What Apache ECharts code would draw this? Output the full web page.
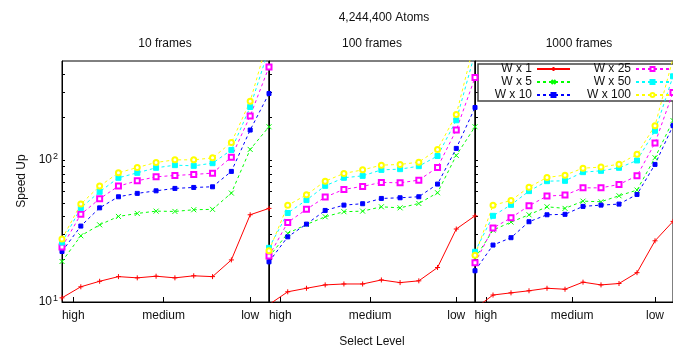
<!DOCTYPE html>
<html>
<head>
<meta charset="utf-8">
<script src="https://cdn.jsdelivr.net/npm/echarts@6/dist/echarts.min.js"></script>
<style>
html, body { margin: 0; padding: 0; background: #fff; }
#main { width: 673px; height: 351px; }
</style>
</head>
<body>
<div id="main"></div>
<script>
var myChart = echarts.init(document.getElementById('main'));

// x positions of the select levels, and where the named ticks sit
var steps = [0, 1, 2, 3, 4, 5, 6, 7, 8, 9, 10, 11];
var tickPos = [0.6, 5.4, 10];
var tickNames = ['high', 'medium', 'low'];
var yMinor = [20, 30, 40, 50, 60, 70, 80, 90, 100, 200, 300, 400];
var yLabels = [10, 100];

var panelTitles = ['10 frames', '100 frames', '1000 frames'];
var seriesNames = ['W x 1', 'W x 5', 'W x 10', 'W x 25', 'W x 50', 'W x 100'];

// 10 frames
var f10_w1 = [10.7, 12.8, 14.0, 15.1, 14.8, 15.2, 14.8, 15.3, 15.1, 19.8, 41.2, 45.7];
var f10_w5 = [19.3, 29.3, 35.0, 40.1, 42.1, 43.7, 43.5, 44.7, 45.0, 58.6, 119, 172];
var f10_w10 = [22.7, 34.3, 46.1, 55.2, 58.3, 60.8, 63.2, 64.2, 64.9, 83.3, 163, 295];
var f10_w25 = [24.4, 41.5, 53.4, 65.6, 71.5, 76.3, 78.0, 79.3, 81.0, 105, 205, 454];
var f10_w50 = [26.3, 46.1, 59.8, 75.1, 81.4, 88.3, 92.2, 91.2, 95.2, 118, 237, 610];
var f10_w100 = [27.8, 49.0, 65.6, 81.4, 88.8, 96.3, 100.5, 100.5, 103.8, 133, 260, 750];

// 100 frames
var f100_w1 = [9.6, 11.8, 12.5, 13.2, 13.4, 13.4, 14.3, 13.7, 14.1, 17.5, 32.7, 40.5];
var f100_w5 = [20.8, 30.5, 35.2, 39.9, 43.3, 43.7, 46.9, 46.1, 49.5, 58.9, 108, 172];
var f100_w10 = [19.2, 28.8, 35.4, 44.2, 48.2, 49.3, 53.7, 54.3, 55.2, 67.8, 121, 235];
var f100_w25 = [21.1, 36.4, 45.0, 54.9, 62.2, 65.3, 69.7, 69.2, 72.3, 88.9, 163, 382];
var f100_w50 = [24.1, 42.4, 52.3, 65.9, 75.1, 77.5, 85.4, 86.4, 90.7, 107, 191, 570];
var f100_w100 = [23.0, 48.0, 57.0, 71.1, 80.6, 85.4, 92.2, 93.3, 96.8, 119, 210, 700];

// 1000 frames
var f1000_w1 = [9.0, 11.2, 11.6, 12.0, 12.5, 12.3, 13.8, 13.2, 13.5, 16.1, 27.0, 37];
var f1000_w5 = [20.3, 32.1, 36.6, 41.2, 46.9, 45.7, 51.4, 50.9, 56.1, 61.5, 104, 190];
var f1000_w10 = [16.6, 25.2, 28.4, 36.8, 41.2, 41.5, 47.2, 48.2, 49.0, 57.3, 93.3, 175];
var f1000_w25 = [18.9, 33.2, 39.2, 47.7, 55.8, 56.7, 63.8, 63.8, 67.4, 77.5, 132, 300];
var f1000_w50 = [22.6, 40.5, 48.4, 60.5, 71.1, 71.5, 82.3, 84.1, 88.3, 99.5, 161, 390];
var f1000_w100 = [21.4, 48.0, 52.0, 64.5, 75.5, 78.4, 87.8, 89.3, 93.7, 110, 175, 520];

var panels = [
    [f10_w1, f10_w5, f10_w10, f10_w25, f10_w50, f10_w100],
    [f100_w1, f100_w5, f100_w10, f100_w25, f100_w50, f100_w100],
    [f1000_w1, f1000_w5, f1000_w10, f1000_w25, f1000_w50, f1000_w100]
];

var FONT = 'Liberation Sans, Arial, sans-serif';
var colors = ['#ff0000', '#00ff00', '#0000ff', '#ff00ff', '#00ffff', '#ffff00'];
var symbols = [
    'path://M0,5L10,5M5,0L5,10',
    'path://M0,0L10,10M10,0L0,10',
    'rect',
    'emptyRect',
    'rect',
    'emptyCircle'
];
var symbolSizes = [5, 5, 4, 5, 5, 5];

var grids = [
    { left: 62, top: 61, width: 207, height: 241 },
    { left: 269, top: 61, width: 206, height: 241 },
    { left: 475, top: 61, width: 207, height: 241 }
];

var xAxes = [], yAxes = [], series = [];
grids.forEach(function (g, p) {
    g.show = true;
    g.borderColor = '#000';
    g.borderWidth = 1;
    xAxes.push({
        type: 'value', gridIndex: p, min: 0, max: 11,
        axisLine: { show: true, lineStyle: { color: '#000', width: 1 } },
        axisTick: { inside: true, length: 5, customValues: tickPos, lineStyle: { color: '#000' } },
        axisLabel: {
            customValues: tickPos, margin: 8, color: '#111', fontSize: 12, fontFamily: FONT,
            formatter: function (v) {
                var k = tickPos.indexOf(v);
                return k >= 0 ? tickNames[k] : '';
            }
        },
        splitLine: { show: false }
    });
    yAxes.push({
        type: 'log', logBase: 10, gridIndex: p, min: 10, max: 500,
        axisLine: { show: true, lineStyle: { color: '#000', width: 1 } },
        axisTick: { inside: true, length: 3, customValues: yMinor, lineStyle: { color: '#000' } },
        axisLabel: {
            show: p === 0, customValues: yLabels, margin: 4, color: '#111',
            formatter: function (v) {
                return '{b|10}{s|' + Math.round(Math.log10(v)) + '}';
            },
            rich: {
                b: { fontSize: 12, fontFamily: FONT, color: '#111' },
                s: { fontSize: 9, fontFamily: FONT, color: '#111', padding: [0, 0, 7, 1] }
            }
        },
        splitLine: { show: false }
    });
    panels[p].forEach(function (vals, k) {
        series.push({
            name: seriesNames[k],
            type: 'line',
            xAxisIndex: p,
            yAxisIndex: p,
            data: steps.map(function (x, i) { return [x, vals[i]]; }),
            symbol: symbols[k],
            symbolSize: symbolSizes[k],
            color: colors[k],
            itemStyle: { color: colors[k], borderColor: colors[k], borderWidth: 1 },
            lineStyle: { color: colors[k], width: 1, type: k === 0 ? 'solid' : [3, 3] },
            clip: true
        });
    });
});

// gnuplot-style key: text right-aligned, sample to the right
var legendPos = [
    { right: 102, top: 63 }, { right: 102, top: 76 }, { right: 102, top: 89 },
    { right: 3, top: 63 }, { right: 3, top: 76 }, { right: 3, top: 89 }
];
var legends = seriesNames.map(function (n, k) {
    return {
        data: [n], right: legendPos[k].right, top: legendPos[k].top,
        orient: 'vertical', align: 'right', padding: 0, z: 5,
        itemWidth: 33, itemHeight: 5, selectedMode: false,
        textStyle: { fontSize: 12, fontFamily: FONT, color: '#111' }
    };
});

var texts = [
    { text: '4,244,400 Atoms', x: 384, y: 18 },
    { text: panelTitles[0], x: 165, y: 44 },
    { text: panelTitles[1], x: 372, y: 44 },
    { text: panelTitles[2], x: 579, y: 44 },
    { text: 'Select Level', x: 372, y: 342 }
];
var graphics = texts.map(function (t) {
    return {
        type: 'text', x: t.x, y: t.y, z: 5,
        style: { text: t.text, textAlign: 'center', textVerticalAlign: 'middle', font: '12px ' + FONT, fill: '#111' }
    };
});
graphics.push({
    type: 'text', x: 22, y: 181, rotation: Math.PI / 2, z: 5,
    style: { text: 'Speed Up', textAlign: 'center', textVerticalAlign: 'middle', font: '12px ' + FONT, fill: '#111' }
});
graphics.push({
    type: 'rect', z: 3,
    shape: { x: 478, y: 64, width: 210, height: 37 },
    style: { fill: '#fff', stroke: '#444', lineWidth: 1.5 }
});

var option = {
    animation: false,
    grid: grids,
    xAxis: xAxes,
    yAxis: yAxes,
    legend: legends,
    graphic: graphics,
    series: series
};
option && myChart.setOption(option);
</script>
</body>
</html>
